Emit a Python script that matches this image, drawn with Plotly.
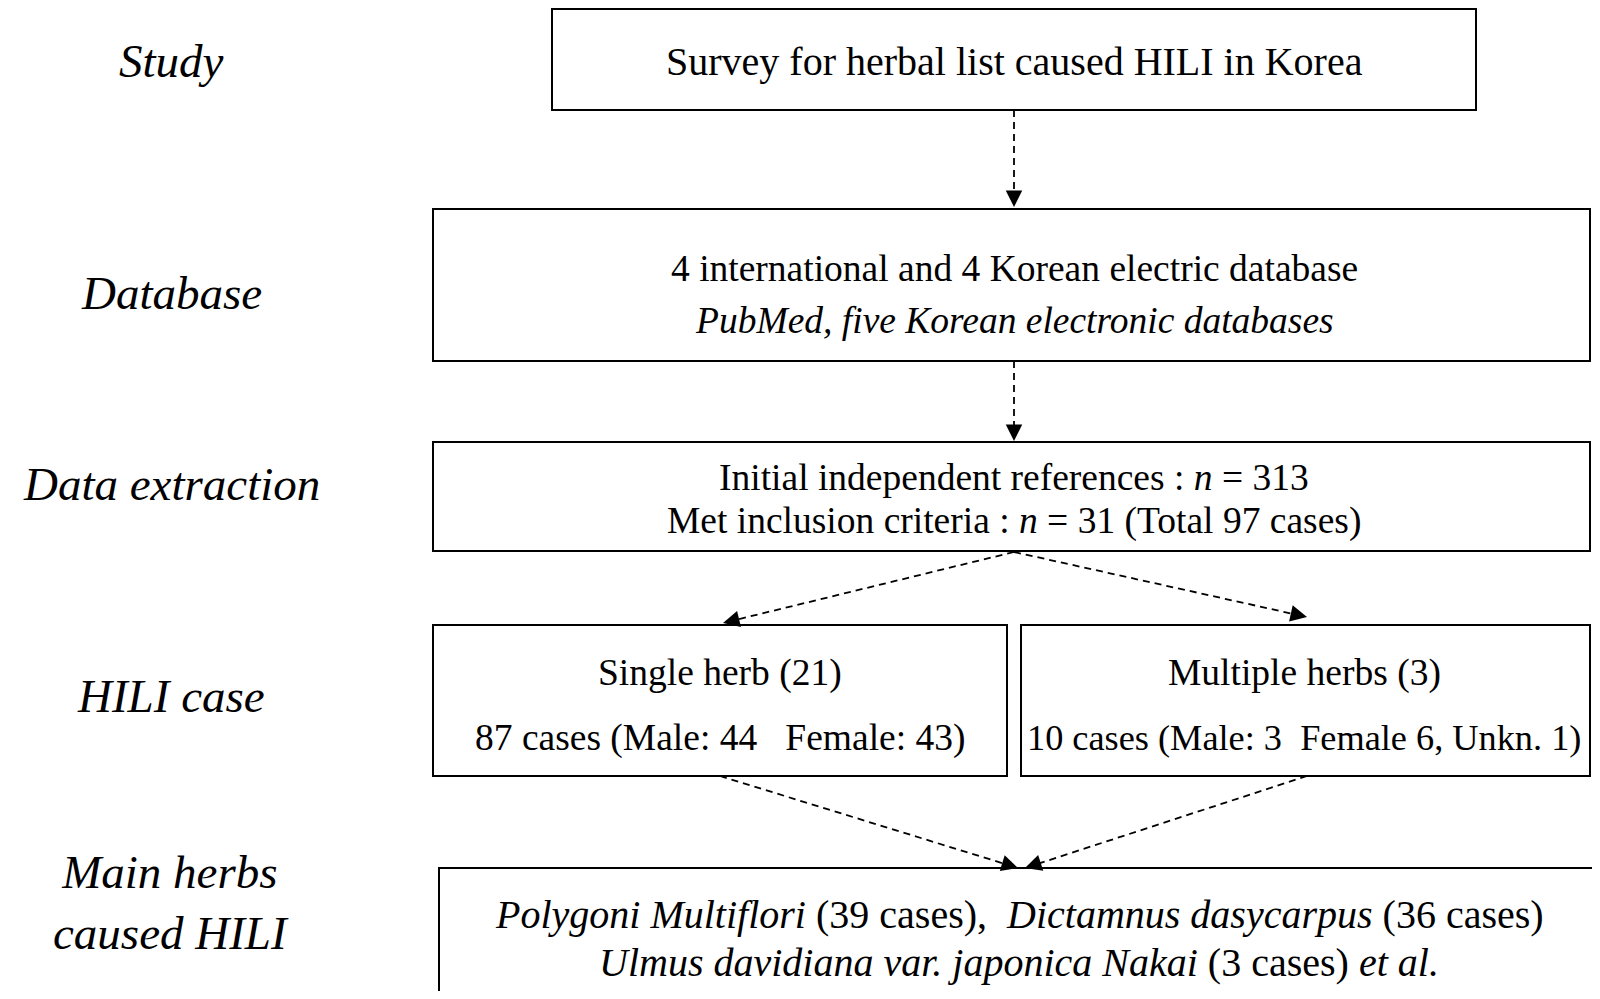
import math
import plotly.graph_objects as go

# ---- content ----
stage_labels = ["Study", "Database", "Data extraction", "HILI case", "Main herbs<br>caused HILI"]
stage_label_y = [61, 293, 484, 696, 902]

box_names = ["survey", "database", "extraction", "single", "multiple", "herbs"]
box_x0 = [552, 433, 433, 433, 1021, 439]
box_x1 = [1476, 1590, 1590, 1007, 1590, 1640]
box_y0 = [9, 209, 442, 625, 625, 868]
box_y1 = [110, 361, 551, 776, 776, 1040]

box_lines = [
    ["Survey for herbal list caused HILI in Korea"],
    ["4 international and 4 Korean electric database",
     "<i>PubMed, five Korean electronic databases</i>"],
    ["Initial independent references : <i>n</i> = 313",
     "Met inclusion criteria : <i>n</i> = 31 (Total 97 cases)"],
    ["Single herb (21)", "87 cases (Male: 44   Female: 43)"],
    ["Multiple herbs (3)", "10 cases (Male: 3  Female 6, Unkn. 1)"],
    ["<i>Polygoni Multiflori</i> (39 cases),  <i>Dictamnus dasycarpus</i> (36 cases)",
     "<i>Ulmus davidiana var. japonica Nakai</i> (3 cases) <i>et al.</i>"],
]
box_line_y = [[61], [268, 320], [477, 521], [673, 738], [673, 738], [914, 962]]
box_text_x = [1014, 1014, 1014, 720, 1304, 1019]
box_font_size = [[40], [37.5, 37.5], [37.5, 37.5], [37.5, 37.5], [37.5, 36.3], [40, 40]]

# arrows: start (x, y) -> tip (x, y)
arrow_from = [(1014, 110), (1014, 361), (1014, 552), (1014, 552), (720, 776), (1307, 776)]
arrow_to = [(1014, 207), (1014, 441), (723, 623), (1307, 617), (1018, 868), (1025, 868)]

FONT = "Liberation Serif, Times New Roman, serif"
OFF = 8  # page body margin

fig = go.Figure()

shapes = []
for x0, x1, y0, y1 in zip(box_x0, box_x1, box_y0, box_y1):
    shapes.append(dict(type="rect", xref="x", yref="y", x0=x0, x1=x1, y0=y0, y1=y1,
                       line=dict(color="black", width=2), fillcolor="rgba(0,0,0,0)"))

annotations = []
head = 16
for (sx, sy), (tx, ty) in zip(arrow_from, arrow_to):
    dx, dy = tx - sx, ty - sy
    L = math.hypot(dx, dy)
    ux, uy = dx / L, dy / L
    ex, ey = tx - ux * (head - 2), ty - uy * (head - 2)
    shapes.append(dict(type="line", xref="x", yref="y", x0=sx, y0=sy, x1=ex, y1=ey,
                       line=dict(color="black", width=1.8, dash="7px,5px")))
    annotations.append(dict(x=tx, y=ty, ax=tx - ux * head, ay=ty - uy * head,
                            xref="x", yref="y", axref="x", ayref="y",
                            showarrow=True, arrowhead=2, arrowsize=2.2, arrowwidth=1.5,
                            arrowcolor="black", standoff=0, text=""))

for lab, y in zip(stage_labels, stage_label_y):
    annotations.append(dict(x=171, y=y, xref="x", yref="y", text=f"<i>{lab}</i>",
                            showarrow=False, font=dict(family=FONT, size=47, color="black"),
                            xanchor="center", yanchor="middle"))

for lines, ys, tx, fss in zip(box_lines, box_line_y, box_text_x, box_font_size):
    for t, y, fs in zip(lines, ys, fss):
        annotations.append(dict(x=tx, y=y, xref="x", yref="y", text=t, showarrow=False,
                                font=dict(family=FONT, size=fs, color="black"),
                                xanchor="center", yanchor="middle"))

fig.update_layout(
    width=1600 - 2 * OFF, height=999 - 2 * OFF,
    margin=dict(l=0, r=0, t=0, b=0),
    paper_bgcolor="white", plot_bgcolor="white",
    xaxis=dict(range=[OFF, 1600 - OFF], visible=False, fixedrange=True),
    yaxis=dict(range=[999 - OFF, OFF], visible=False, fixedrange=True),
    shapes=shapes, annotations=annotations, showlegend=False,
)

fig.write_html("out.html")
